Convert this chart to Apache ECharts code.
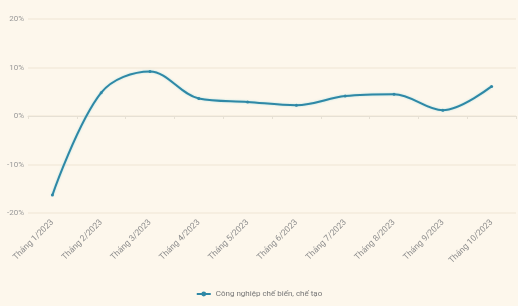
<!DOCTYPE html>
<html>
<head>
<meta charset="utf-8">
<script src="https://cdn.jsdelivr.net/npm/echarts@6/dist/echarts.min.js"></script>
<style>
  html, body { margin: 0; padding: 0; background: #fdf7ec; }
  #chart { width: 518px; height: 306px; }
</style>
</head>
<body>
<div id="chart"></div>
<script>
// dữ liệu
const months = ['Tháng 1/2023', 'Tháng 2/2023', 'Tháng 3/2023', 'Tháng 4/2023', 'Tháng 5/2023',
  'Tháng 6/2023', 'Tháng 7/2023', 'Tháng 8/2023', 'Tháng 9/2023', 'Tháng 10/2023'];
const seriesName = 'Công nghiệp chế biến, chế tạo';
const growth = [-16.3, 4.8, 9.2, 3.6, 2.9, 2.2, 4.1, 4.5, 1.2, 6.1];

const chart = echarts.init(document.getElementById('chart'));
chart.setOption({
  backgroundColor: '#fdf7ec',
  animation: false,
  textStyle: { fontFamily: 'Roboto, sans-serif' },
  legend: {
    bottom: 3,
    left: 'center',
    itemWidth: 14,
    itemHeight: 6,
    textStyle: { color: '#777', fontSize: 8 },
    data: [seriesName]
  },
  grid: { left: 28, right: 2, top: 19, bottom: 93 },
  xAxis: {
    type: 'category',
    data: months,
    boundaryGap: true,
    axisLine: { lineStyle: { color: '#e6e0d4' } },
    axisTick: { show: true, lineStyle: { color: '#e6e0d4' }, length: 3 },
    axisLabel: { rotate: 45, color: '#8e8e8e', fontSize: 8.5, interval: 0, margin: 8 }
  },
  yAxis: {
    type: 'value',
    min: -20,
    max: 20,
    interval: 10,
    axisLine: { show: false },
    axisTick: { show: false },
    axisLabel: { formatter: '{value}%', color: '#999', fontSize: 8, margin: 4 },
    splitLine: { lineStyle: { color: '#f3ebdc', width: 1.5 } }
  },
  series: [{
    name: seriesName,
    type: 'line',
    data: growth,
    smooth: 0.35,
    symbol: 'circle',
    symbolSize: 3,
    lineStyle: { color: '#2f88a6', width: 2, shadowColor: 'rgba(120,210,220,0.6)', shadowBlur: 2 },
    itemStyle: { color: '#2f88a6' }
  }]
});
</script>
</body>
</html>
